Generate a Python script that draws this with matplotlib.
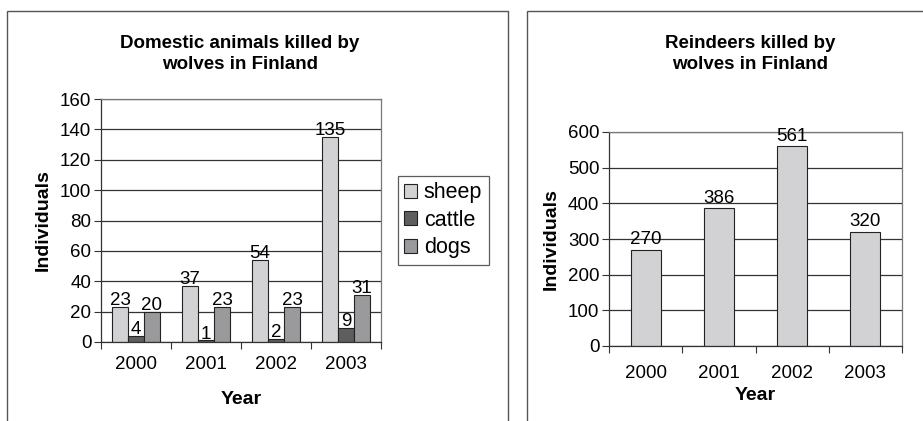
import matplotlib
matplotlib.use('Agg')
import matplotlib.pyplot as plt
from matplotlib.patches import Rectangle, Patch
import numpy as np

plt.rcParams['font.family'] = ['Liberation Sans', 'DejaVu Sans']
plt.rcParams['font.size'] = 13.5

years = ['2000', '2001', '2002', '2003']
sheep = [23, 37, 54, 135]
cattle = [4, 1, 2, 9]
dogs = [20, 23, 23, 31]
reindeer = [270, 386, 561, 320]

SERIES = [
    ('sheep', sheep, '#d2d2d4'),
    ('cattle', cattle, '#5e5e5e'),
    ('dogs', dogs, '#9a9a9c'),
]
W, H = 923, 421
GRID = '#333333'
FRAME = '#777777'


def px(x0, y0, x1, y1):
    # pixel box (top-left origin) -> figure fraction [l, b, w, h]
    return [x0 / W, 1 - y1 / H, (x1 - x0) / W, (y1 - y0) / H]


def style_axes(ax, ymax, step, xpad):
    ax.set_xlim(-0.5, len(years) - 0.5)
    ax.set_ylim(0, ymax)
    ax.set_yticks(np.arange(0, ymax + 1, step))
    ax.set_xticks(np.arange(len(years) + 1) - 0.5)
    ax.set_xticklabels([])
    ax.set_xticks(np.arange(len(years)), minor=True)
    ax.set_xticklabels(years, minor=True)
    ax.tick_params(axis='x', which='minor', length=0, pad=xpad)
    ax.tick_params(axis='x', which='major', length=5, color=GRID, direction='out')
    ax.tick_params(axis='y', length=5, color=GRID, direction='out', pad=2)
    ax.yaxis.grid(True, color=GRID, lw=0.9)
    ax.set_axisbelow(True)
    for s in ['top', 'right']:
        ax.spines[s].set_color(FRAME)
        ax.spines[s].set_linewidth(0.9)
    for s in ['left', 'bottom']:
        ax.spines[s].set_color(GRID)
        ax.spines[s].set_linewidth(0.9)
    ax.set_ylabel('Individuals', fontweight='bold', fontsize=14, labelpad=6)
    ax.set_xlabel('Year', fontweight='bold', fontsize=14)


fig = plt.figure(figsize=(W / 100, H / 100), dpi=100)

# chart area borders
fig.add_artist(Rectangle((7 / W, -0.1), 501 / W, 1.1 - 11 / H, transform=fig.transFigure,
                         fill=False, ec='#555555', lw=1))
fig.add_artist(Rectangle((527 / W, -0.1), 0.5, 1.1 - 11 / H, transform=fig.transFigure,
                         fill=False, ec='#555555', lw=1))

# left: domestic animals
ax1 = fig.add_axes(px(101, 99, 381, 342))
x = np.arange(len(years))
bw = 0.228
for i, (name, vals, col) in enumerate(SERIES):
    xs = x + (i - 1) * bw
    ax1.bar(xs, vals, bw, color=col, edgecolor='#222222', lw=0.8, label=name)
    for xi, v in zip(xs, vals):
        ax1.annotate(str(v), (xi, v), xytext=(0, -1.5), textcoords='offset points',
                     ha='center', va='bottom')
style_axes(ax1, 160, 20, 10)
ax1.xaxis.labelpad = 13
fig.text(240 / W, 1 - 54 / H, 'Domestic animals killed by\nwolves in Finland',
         ha='center', va='center', fontweight='bold', fontsize=13.5, linespacing=1.25)
handles = [Patch(fc=c, ec='#222222', lw=0.8) for _, _, c in SERIES]
leg = fig.legend(handles, [s[0] for s in SERIES], loc='upper left',
                 bbox_to_anchor=(398 / W, 1 - 176 / H), frameon=True, fancybox=False,
                 fontsize=15.5, handlelength=0.6, handleheight=0.6, handletextpad=0.3,
                 borderpad=0.3, labelspacing=0.3, borderaxespad=0)
leg.get_frame().set_edgecolor('#333333')
leg.get_frame().set_linewidth(0.9)

# right: reindeers
ax2 = fig.add_axes(px(609, 132, 902, 346))
ax2.bar(x, reindeer, 0.41, color='#d2d2d4', edgecolor='#222222', lw=0.8)
for xi, v in zip(x, reindeer):
    ax2.annotate(str(v), (xi, v), xytext=(0, 1), textcoords='offset points',
                 ha='center', va='bottom')
style_axes(ax2, 600, 100, 14)
ax2.xaxis.labelpad = 3
fig.text(750 / W, 1 - 54 / H, 'Reindeers killed by\nwolves in Finland',
         ha='center', va='center', fontweight='bold', fontsize=13.5, linespacing=1.25)

fig.savefig('out.png', dpi=100)
